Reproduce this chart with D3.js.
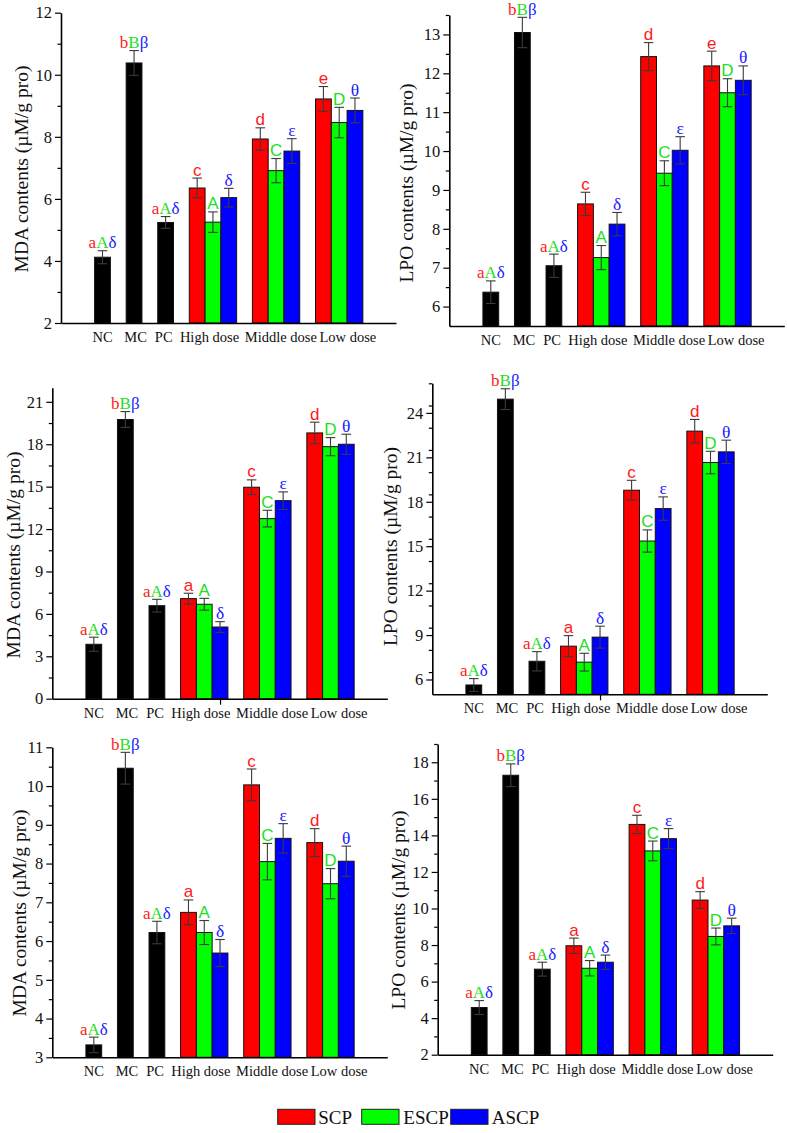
<!DOCTYPE html>
<html>
<head>
<meta charset="utf-8">
<script src="https://cdn.jsdelivr.net/npm/d3@7"></script>
<style>
  html, body { margin: 0; padding: 0; background: #fff; }
  svg { display: block; }
  text { font-family: "Liberation Serif", "Times New Roman", serif; }
</style>
</head>
<body>
<svg id="chart" width="787" height="1133"></svg>
<script>
// ---------- data ----------
const categories = ["NC", "MC", "PC", "High dose", "Middle dose", "Low dose"];
const controlCats = ["NC", "MC", "PC"];
const doseCats = ["High dose", "Middle dose", "Low dose"];
const series = ["SCP", "ESCP", "ASCP"];
const seriesColors = ["#ff0000", "#00ff00", "#0000ff"];
const labelColors = ["#ff1a1a", "#1ee01e", "#1a1aff"];

// Panel 1: MDA
const p1Control = [4.12, 10.38, 5.24];
const p1ControlErr = [0.21, 0.40, 0.19];
const p1SCP = [6.35, 7.93, 9.22],  p1SCPErr = [0.32, 0.36, 0.40];
const p1ESCP = [5.25, 6.91, 8.46], p1ESCPErr = [0.33, 0.39, 0.49];
const p1ASCP = [6.04, 7.54, 8.85], p1ASCPErr = [0.30, 0.40, 0.40];
const p1Ticks = [2, 4, 6, 8, 10, 12];

// Panel 2: LPO
const p2Control = [6.37, 13.05, 7.05];
const p2ControlErr = [0.29, 0.39, 0.30];
const p2SCP = [8.64, 12.43, 12.19], p2SCPErr = [0.30, 0.36, 0.38];
const p2ESCP = [7.26, 9.43, 11.50], p2ESCPErr = [0.31, 0.32, 0.36];
const p2ASCP = [8.12, 10.02, 11.82], p2ASCPErr = [0.30, 0.35, 0.37];
const p2Ticks = [6, 7, 8, 9, 10, 11, 12, 13];

// Panel 3: MDA
const p3Control = [3.85, 19.75, 6.58];
const p3ControlErr = [0.50, 0.56, 0.45];
const p3SCP = [7.08, 14.96, 18.80], p3SCPErr = [0.38, 0.52, 0.76];
const p3ESCP = [6.68, 12.74, 17.83], p3ESCPErr = [0.42, 0.59, 0.64];
const p3ASCP = [5.07, 14.01, 18.00], p3ASCPErr = [0.38, 0.62, 0.71];
const p3Ticks = [0, 3, 6, 9, 12, 15, 18, 21];

// Panel 4: LPO
const p4Control = [5.63, 24.93, 7.23];
const p4ControlErr = [0.43, 0.70, 0.65];
const p4SCP = [8.25, 18.78, 22.77], p4SCPErr = [0.71, 0.67, 0.79];
const p4ESCP = [7.17, 15.35, 20.65], p4ESCPErr = [0.60, 0.75, 0.76];
const p4ASCP = [8.86, 17.54, 21.37], p4ASCPErr = [0.74, 0.79, 0.79];
const p4Ticks = [6, 9, 12, 15, 18, 21, 24];

// Panel 5: MDA
const p5Control = [3.32, 10.46, 6.22];
const p5ControlErr = [0.20, 0.41, 0.29];
const p5SCP = [6.74, 10.03, 8.54], p5SCPErr = [0.32, 0.41, 0.36];
const p5ESCP = [6.22, 8.05, 7.48], p5ESCPErr = [0.31, 0.47, 0.39];
const p5ASCP = [5.69, 8.65, 8.06], p5ASCPErr = [0.35, 0.38, 0.39];
const p5Ticks = [3, 4, 5, 6, 7, 8, 9, 10, 11];

// Panel 6: LPO
const p6Control = [4.58, 17.29, 6.68];
const p6ControlErr = [0.38, 0.62, 0.38];
const p6SCP = [7.96, 14.60, 10.46], p6SCPErr = [0.42, 0.50, 0.46];
const p6ESCP = [6.73, 13.15, 8.47], p6ESCPErr = [0.42, 0.54, 0.46];
const p6ASCP = [7.06, 13.82, 9.05], p6ASCPErr = [0.39, 0.55, 0.42];
const p6Ticks = [2, 4, 6, 8, 10, 12, 14, 16, 18];

// significance letters
const controlLetters = ["aAδ", "bBβ", "aAδ"];
const lettersTop = [["c", "d", "e"], ["A", "C", "D"], ["δ", "ε", "θ"]];
const lettersLower = [["a", "c", "d"], ["A", "C", "D"], ["δ", "ε", "θ"]];

const mdaTitle = "MDA contents (µM/g pro)";
const lpoTitle = "LPO contents (µM/g pro)";

// ---------- layout ----------
const panels = [
  { title: mdaTitle, ctrl: p1Control, ctrlErr: p1ControlErr, vals: [p1SCP, p1ESCP, p1ASCP], errs: [p1SCPErr, p1ESCPErr, p1ASCPErr],
    letters: lettersTop, ticks: p1Ticks, minorStep: 1, domain: [2, 12], axisX: 61, yPix: [323, 12.7], titleX: 28, titleY: 169, xTick: false },
  { title: lpoTitle, ctrl: p2Control, ctrlErr: p2ControlErr, vals: [p2SCP, p2ESCP, p2ASCP], errs: [p2SCPErr, p2ESCPErr, p2ASCPErr],
    letters: lettersTop, ticks: p2Ticks, minorStep: 0.5, domain: [5.5, 13.5], axisX: 449.3, yPix: [326, 15], titleX: 412.5, titleY: 183, xTick: false },
  { title: mdaTitle, ctrl: p3Control, ctrlErr: p3ControlErr, vals: [p3SCP, p3ESCP, p3ASCP], errs: [p3SCPErr, p3ESCPErr, p3ASCPErr],
    letters: lettersLower, ticks: p3Ticks, minorStep: 1.5, domain: [0, 22], axisX: 52.3, yPix: [698.7, 387.7], titleX: 19.5, titleY: 555, xTick: true },
  { title: lpoTitle, ctrl: p4Control, ctrlErr: p4ControlErr, vals: [p4SCP, p4ESCP, p4ASCP], errs: [p4SCPErr, p4ESCPErr, p4ASCPErr],
    letters: lettersLower, ticks: p4Ticks, minorStep: 1.5, domain: [5, 26], axisX: 432.3, yPix: [694.3, 383.3], titleX: 397, titleY: 546.5, xTick: true },
  { title: mdaTitle, ctrl: p5Control, ctrlErr: p5ControlErr, vals: [p5SCP, p5ESCP, p5ASCP], errs: [p5SCPErr, p5ESCPErr, p5ASCPErr],
    letters: lettersLower, ticks: p5Ticks, minorStep: 0.5, domain: [3, 11], axisX: 52.3, yPix: [1057.3, 747.3], titleX: 26, titleY: 913, xTick: false },
  { title: lpoTitle, ctrl: p6Control, ctrlErr: p6ControlErr, vals: [p6SCP, p6ESCP, p6ASCP], errs: [p6SCPErr, p6ESCPErr, p6ASCPErr],
    letters: lettersLower, ticks: p6Ticks, minorStep: 1, domain: [2, 19], axisX: 437.7, yPix: [1054.7, 744], titleX: 405, titleY: 910, xTick: false }
];

const slotDomain = [-2.13, 19.1];
const axisWidth = 335;
const labelShift = [0, 0.1, -0.12, -0.22, 0.3, 0.55];
const errColor = "#3a3a3a";
const capHalf = 4.8;
const serif = "'Liberation Serif', 'Times New Roman', serif";
const sans = "'Liberation Sans', Arial, sans-serif";

// slot index for each category (single bars for controls, 3-bar groups for doses, one empty slot between)
const catSlots = [];
{
  let s = 0;
  categories.forEach(c => {
    const n = controlCats.includes(c) ? 1 : series.length;
    catSlots.push({ cat: c, start: s, n: n });
    s += n + 1;
  });
}

const svg = d3.select("#chart");
svg.append("rect").attr("width", 787).attr("height", 1133).attr("fill", "#fff");

panels.forEach(p => {
  const g = svg.append("g");
  const x = d3.scaleLinear().domain(slotDomain).range([p.axisX, p.axisX + axisWidth]);
  const y = d3.scaleLinear().domain(p.domain).range(p.yPix);
  const slotW = x(1) - x(0);

  const bars = [];
  catSlots.forEach(cs => {
    if (cs.n === 1) {
      const k = controlCats.indexOf(cs.cat);
      bars.push({ slot: cs.start, v: p.ctrl[k], e: p.ctrlErr[k], fill: "#000", label: controlLetters[k], combo: true });
    } else {
      const k = doseCats.indexOf(cs.cat);
      series.forEach((s, si) => {
        bars.push({ slot: cs.start + si, v: p.vals[si][k], e: p.errs[si][k], fill: seriesColors[si],
          label: p.letters[si][k], labelColor: labelColors[si], greek: si === 2, combo: false });
      });
    }
  });

  g.selectAll("rect.bar").data(bars).enter().append("rect")
    .attr("class", "bar")
    .attr("x", d => x(d.slot))
    .attr("width", slotW)
    .attr("y", d => y(d.v))
    .attr("height", d => y(p.domain[0]) - y(d.v))
    .attr("fill", d => d.fill)
    .attr("stroke", "#111")
    .attr("stroke-width", 1);

  const eg = g.selectAll("g.err").data(bars).enter().append("g").attr("class", "err")
    .attr("stroke", errColor).attr("stroke-width", 1.1);
  eg.append("line")
    .attr("x1", d => x(d.slot + 0.5)).attr("x2", d => x(d.slot + 0.5))
    .attr("y1", d => y(d.v - d.e)).attr("y2", d => y(d.v + d.e));
  eg.append("line")
    .attr("x1", d => x(d.slot + 0.5) - capHalf).attr("x2", d => x(d.slot + 0.5) + capHalf)
    .attr("y1", d => y(d.v + d.e)).attr("y2", d => y(d.v + d.e));
  eg.append("line")
    .attr("x1", d => x(d.slot + 0.5) - capHalf).attr("x2", d => x(d.slot + 0.5) + capHalf)
    .attr("y1", d => y(d.v - d.e)).attr("y2", d => y(d.v - d.e));

  bars.forEach(d => {
    const t = g.append("text")
      .attr("x", x(d.slot + 0.5))
      .attr("y", y(d.v + d.e) - 2.5)
      .attr("text-anchor", "middle");
    if (d.combo) {
      t.style("font-family", serif).style("font-size", "17px");
      Array.from(d.label).forEach((ch, i) => t.append("tspan").attr("fill", labelColors[i]).text(ch));
    } else if (d.greek) {
      t.style("font-family", serif).style("font-size", "17.5px").attr("fill", d.labelColor).text(d.label);
    } else {
      t.style("font-family", sans).style("font-size", "17px").attr("fill", d.labelColor).text(d.label);
    }
  });

  // y axis (major + minor)
  const minorTicks = d3.range(p.domain[0], p.domain[1] + 1e-9, p.minorStep)
    .filter(v => !p.ticks.some(t => Math.abs(t - v) < 1e-9) && v > p.domain[0] + 1e-9);
  g.append("g").attr("transform", `translate(${p.axisX},0)`)
    .call(d3.axisLeft(y).tickValues(minorTicks).tickSize(3.5).tickSizeOuter(0).tickFormat(""))
    .call(a => a.select(".domain").remove())
    .call(a => a.selectAll("line").attr("stroke", "#000").attr("stroke-width", 1.2));
  const ya = g.append("g").attr("transform", `translate(${p.axisX},0)`)
    .call(d3.axisLeft(y).tickValues(p.ticks).tickSize(6).tickSizeOuter(0).tickPadding(3).tickFormat(d3.format("d")));
  ya.select(".domain").attr("stroke", "#000").attr("stroke-width", 1.6);
  ya.selectAll("line").attr("stroke", "#000").attr("stroke-width", 1.2);
  ya.selectAll("text").style("font-family", serif).style("font-size", "16.5px").attr("fill", "#111");

  // x axis line
  const xa = g.append("g").attr("transform", `translate(0,${y(p.domain[0])})`)
    .call(d3.axisBottom(x).tickValues(p.xTick ? [catSlots[3].start + 2.5] : []).tickSize(6).tickSizeOuter(0).tickFormat(""));
  xa.select(".domain").attr("stroke", "#000").attr("stroke-width", 1.6);
  xa.selectAll("line").attr("stroke", "#000").attr("stroke-width", 1.2);

  catSlots.forEach((cs, i) => {
    g.append("text")
      .attr("x", x(cs.start + cs.n / 2 + labelShift[i]))
      .attr("y", y(p.domain[0]) + 19)
      .attr("text-anchor", "middle")
      .style("font-family", serif)
      .style("font-size", "14.5px")
      .attr("fill", "#111")
      .text(cs.cat);
  });

  g.append("text")
    .attr("transform", `translate(${p.titleX},${p.titleY}) rotate(-90)`)
    .attr("text-anchor", "middle")
    .style("font-family", serif)
    .style("font-size", "19.5px")
    .attr("fill", "#111")
    .text(p.title);
});

// legend
const legendBoxX = [277.7, 361.7, 450.7];
const legendTextX = [318.3, 403.3, 491.7];
const lg = svg.append("g");
series.forEach((s, i) => {
  lg.append("rect").attr("x", legendBoxX[i]).attr("y", 1109.3).attr("width", 37.3).attr("height", 15)
    .attr("fill", seriesColors[i]).attr("stroke", "#222").attr("stroke-width", 1);
  lg.append("text").attr("x", legendTextX[i]).attr("y", 1124.3)
    .style("font-family", serif).style("font-size", "19px").attr("fill", "#111").text(s);
});
</script>
</body>
</html>
